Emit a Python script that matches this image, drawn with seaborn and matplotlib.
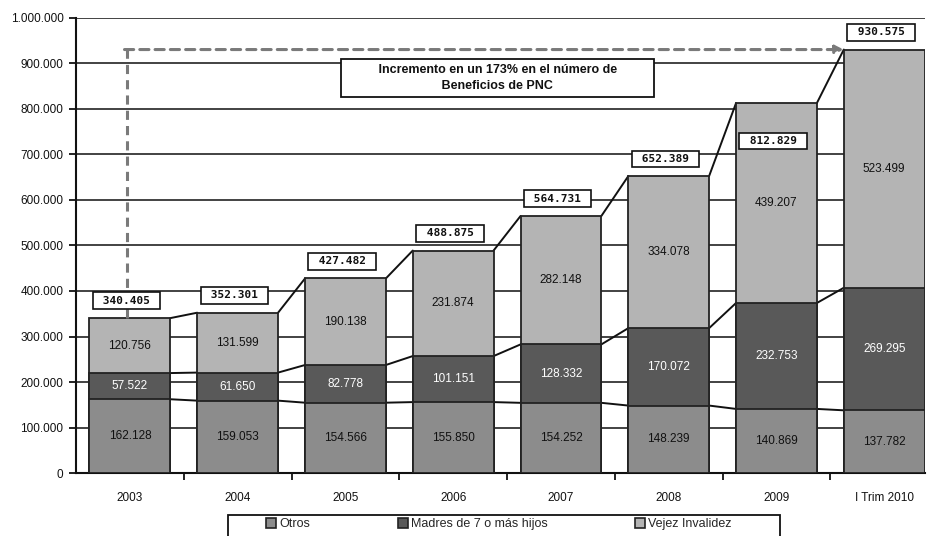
import numpy as np
import matplotlib
matplotlib.use("Agg")
import matplotlib.pyplot as plt
from matplotlib.patches import Patch, Rectangle
from matplotlib.ticker import FuncFormatter, MultipleLocator
import seaborn as sns

categories = ["2003", "2004", "2005", "2006", "2007", "2008", "2009", "I Trim 2010"]
otros = [162128, 159053, 154566, 155850, 154252, 148239, 140869, 137782]
madres = [57522, 61650, 82778, 101151, 128332, 170072, 232753, 269295]
vejez = [120756, 131599, 190138, 231874, 282148, 334078, 439207, 523499]
totales = [340405, 352301, 427482, 488875, 564731, 652389, 812829, 930575]
series_names = ["Otros", "Madres de 7 o más hijos", "Vejez Invalidez"]
nota = "Incremento en un 173% en el número de\nBeneficios de PNC"

colors = ["#8c8c8c", "#595959", "#b4b4b4"]

sns.set_theme(style="white")
plt.rcParams["font.family"] = ["Liberation Sans", "DejaVu Sans"]


def miles(v, pos=None):
    return f"{int(v):,}".replace(",", ".")


cum1 = np.array(otros)
cum2 = cum1 + np.array(madres)
cum3 = cum2 + np.array(vejez)

fig = plt.figure(figsize=(9.27, 5.36), dpi=100)
ax = fig.add_axes([0.082, 0.1175, 0.916, 0.849])

bar_w = 0.75
kw = dict(width=bar_w, edgecolor="#222222", linewidth=1.3, ax=ax, zorder=3)
sns.barplot(x=categories, y=cum3, color=colors[2], **kw)
sns.barplot(x=categories, y=cum2, color=colors[1], **kw)
sns.barplot(x=categories, y=cum1, color=colors[0], **kw)
for p in ax.patches:
    p.set_facecolor(p.get_facecolor()[:3] + (1.0,))

# series lines between bars
for level in (cum1, cum2, cum3):
    for i in range(len(categories) - 1):
        ax.plot([i + bar_w / 2, i + 1 - bar_w / 2], [level[i], level[i + 1]],
                color="#111111", lw=1.4, zorder=2)

# segment value labels
for i in range(len(categories)):
    ax.text(i, otros[i] / 2, miles(otros[i]), ha="center", va="center",
            fontsize=8.5, color="#111111", zorder=5)
    ax.text(i, cum1[i] + madres[i] / 2, miles(madres[i]), ha="center", va="center",
            fontsize=8.5, color="white", zorder=5)
    ax.text(i, cum2[i] + vejez[i] / 2, miles(vejez[i]), ha="center", va="center",
            fontsize=8.5, color="#111111", zorder=5)

# total boxes
for i, t in enumerate(totales):
    off = -83000 if i == 6 else 38000
    ax.text(i - 0.03, t + off, " " + miles(t) + " ",
            ha="center", va="center", fontsize=8, fontweight="bold",
            family="DejaVu Sans Mono", color="#111111", zorder=6,
            bbox=dict(boxstyle="square,pad=0.3", fc="white", ec="#111111", lw=1.2))

# dashed arrow from 2003 to the last bar
ax.plot([-0.03, -0.03], [cum3[0], totales[-1]], ls=(0, (3, 2)), color="#7a7a7a",
        lw=2.2, zorder=4)
ax.annotate("", xy=(len(categories) - 1 - bar_w / 2, totales[-1]),
            xytext=(-0.05, totales[-1]),
            arrowprops=dict(arrowstyle="-|>", color="#7a7a7a", lw=2.2,
                            linestyle=(0, (3, 2)), mutation_scale=12,
                            shrinkA=0, shrinkB=0), zorder=4)

ax.text(3.41, 868000, "         " + nota.replace("\n", "         \n         ") + "         ",
        ha="center", va="center", fontsize=9, fontweight="bold", linespacing=1.35,
        color="#111111", zorder=6, multialignment="center",
        bbox=dict(boxstyle="square,pad=0.45", fc="white", ec="#111111", lw=1.3))

ax.yaxis.set_major_locator(MultipleLocator(100000))
ax.yaxis.set_major_formatter(FuncFormatter(miles))
ax.grid(axis="y", color="#222222", lw=1.2, zorder=0)
ax.set_axisbelow(True)
ax.set_xlabel("")
ax.set_ylabel("")
for s in ("top", "right"):
    ax.spines[s].set_visible(False)
for s in ("left", "bottom"):
    ax.spines[s].set_color("#111111")
    ax.spines[s].set_linewidth(1.5)
ax.tick_params(axis="y", left=True, length=5, width=1.3, color="#111111",
               labelsize=8.5, pad=4)
ax.tick_params(axis="x", bottom=False, labelsize=8.5, pad=8)
ax.set_xticks(np.arange(len(categories)) + 0.5, minor=True)
ax.tick_params(axis="x", which="minor", bottom=True, length=5, width=1.3,
               color="#111111")
for lab in ax.get_yticklabels() + ax.get_xticklabels():
    lab.set_color("#111111")
ax.set_ylim(0, 1000000)
ax.set_xlim(-0.5, 7.38)

# legend box runs past the bottom edge of the picture
fig.patches.append(Rectangle((228 / 927, -0.02), (780 - 228) / 927, 0.02 + 21 / 536,
                             transform=fig.transFigure, fill=False,
                             ec="#111111", lw=1.3))
handles = [Patch(facecolor=c, edgecolor="#222222", lw=1.2) for c in colors]
fig.legend(handles, series_names, loc="center left", ncol=3,
           bbox_to_anchor=(266 / 927, 1 - 524 / 536), fontsize=9, frameon=False,
           handlelength=0.8, handleheight=0.8, handletextpad=0.25,
           columnspacing=7.0, borderpad=0, borderaxespad=0)

fig.savefig("out.png", dpi=100)
